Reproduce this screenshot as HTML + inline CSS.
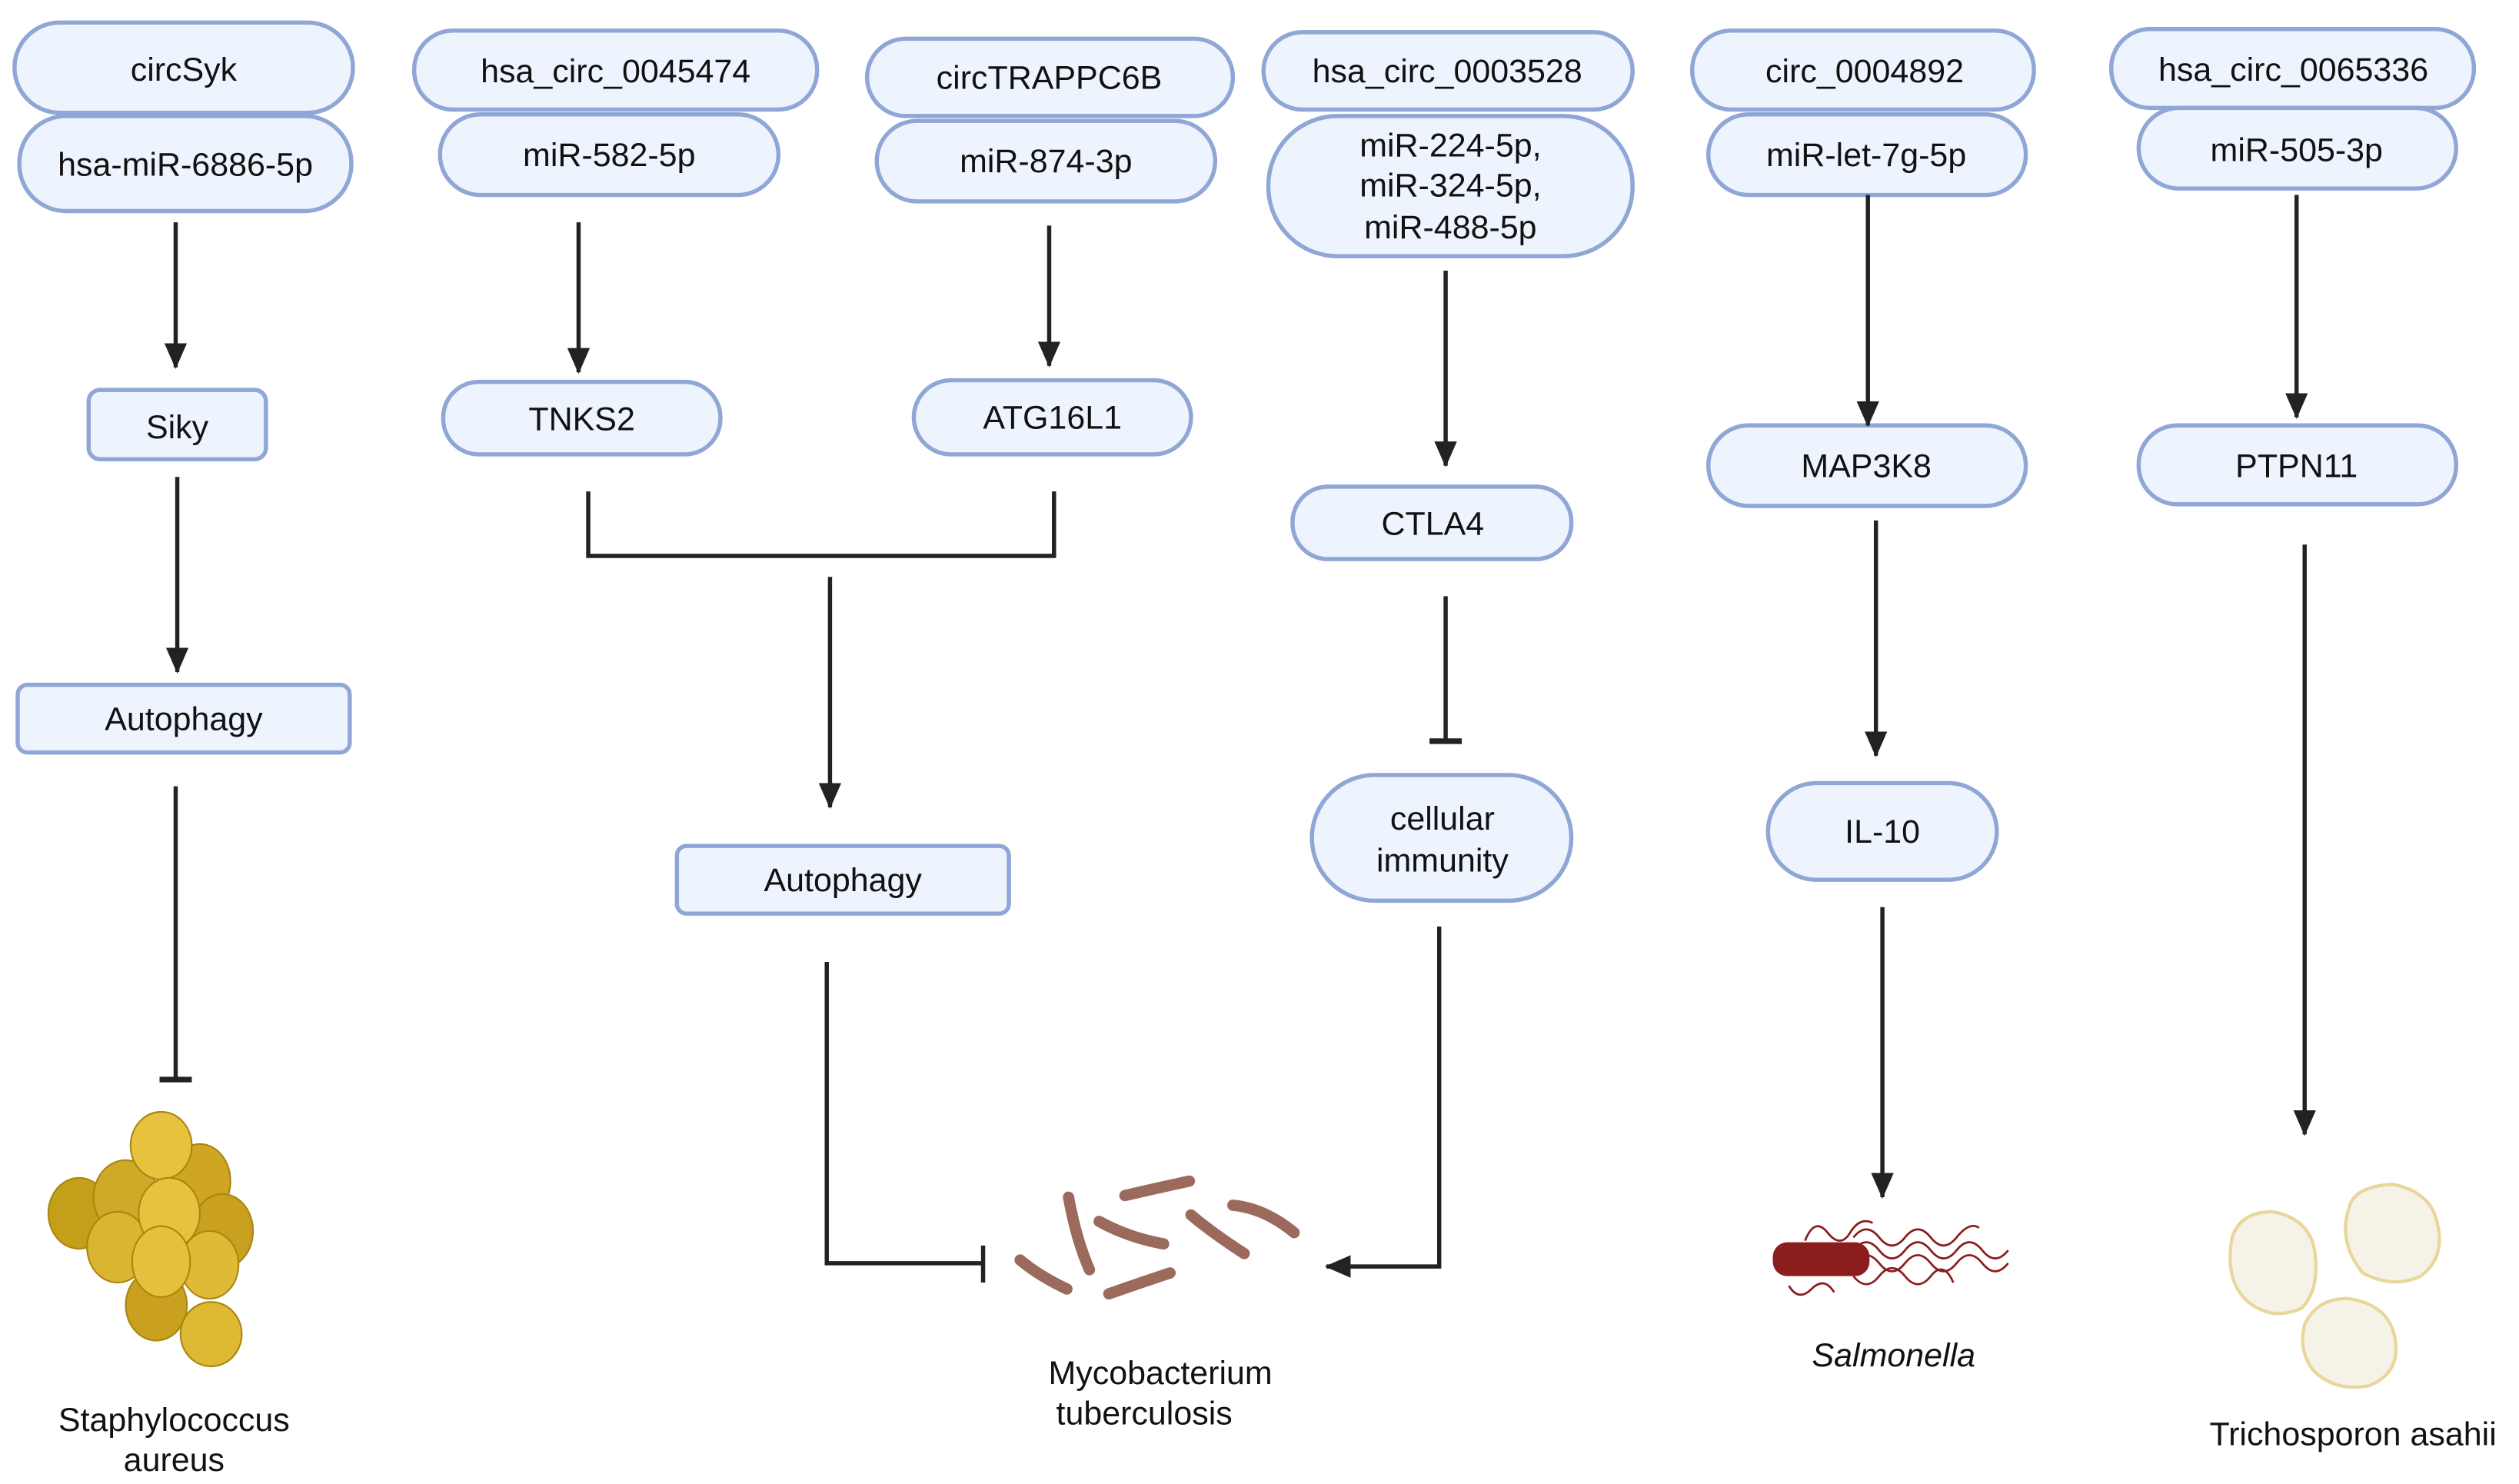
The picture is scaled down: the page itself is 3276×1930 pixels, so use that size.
<!DOCTYPE html>
<html><head><meta charset="utf-8"><style>
html,body{margin:0;padding:0;background:#fff;}
svg{display:block;}
text{font-family:"Liberation Sans",sans-serif;fill:#111;}
</style></head><body>
<svg width="3276" height="1930" viewBox="0 0 1563 921" preserveAspectRatio="none" xmlns="http://www.w3.org/2000/svg">
<defs>
<marker id="ah" markerWidth="16" markerHeight="14" refX="15" refY="7" orient="auto" markerUnits="userSpaceOnUse" viewBox="0 0 16 14"><path d="M0,0 L16,7 L0,14 Z" fill="#222"/></marker>
</defs>
<g fill="#eef4fd" stroke="#8fa6d6" stroke-width="2.6">
<rect x="9" y="14" width="210" height="56" rx="28"/>
<rect x="12" y="72" width="206" height="59" rx="29"/>
<rect x="55" y="242" width="110" height="43" rx="7"/>
<rect x="11" y="425" width="206" height="42" rx="6"/>
<rect x="257" y="19" width="250" height="49" rx="24"/>
<rect x="273" y="71" width="210" height="50" rx="25"/>
<rect x="275" y="237" width="172" height="45" rx="22"/>
<rect x="538" y="24" width="227" height="48" rx="24"/>
<rect x="544" y="75" width="210" height="50" rx="25"/>
<rect x="567" y="236" width="172" height="46" rx="23"/>
<rect x="420" y="525" width="206" height="42" rx="6"/>
<rect x="784" y="20" width="229" height="48" rx="24"/>
<rect x="787" y="72" width="226" height="87" rx="43"/>
<rect x="802" y="302" width="173" height="45" rx="22"/>
<rect x="814" y="481" width="161" height="78" rx="39"/>
<rect x="1050" y="19" width="212" height="49" rx="24"/>
<rect x="1060" y="71" width="197" height="50" rx="25"/>
<rect x="1060" y="264" width="197" height="50" rx="25"/>
<rect x="1097" y="486" width="142" height="60" rx="30"/>
<rect x="1310" y="18" width="225" height="49" rx="24"/>
<rect x="1327" y="67" width="197" height="50" rx="25"/>
<rect x="1327" y="264" width="197" height="49" rx="24"/>
</g>
<g font-size="20.5" text-anchor="middle">
<text x="114" y="50">circSyk</text>
<text x="115" y="109">hsa-miR-6886-5p</text>
<text x="110" y="272">Siky</text>
<text x="114" y="453">Autophagy</text>
<text x="382" y="51">hsa_circ_0045474</text>
<text x="378" y="103">miR-582-5p</text>
<text x="361" y="267">TNKS2</text>
<text x="651" y="55">circTRAPPC6B</text>
<text x="649" y="107">miR-874-3p</text>
<text x="653" y="266">ATG16L1</text>
<text x="523" y="553">Autophagy</text>
<text x="898" y="51">hsa_circ_0003528</text>
<text x="900" y="97">miR-224-5p,</text>
<text x="900" y="122">miR-324-5p,</text>
<text x="900" y="148">miR-488-5p</text>
<text x="889" y="332">CTLA4</text>
<text x="895" y="515">cellular</text>
<text x="895" y="541">immunity</text>
<text x="1157" y="51">circ_0004892</text>
<text x="1158" y="103">miR-let-7g-5p</text>
<text x="1158" y="296">MAP3K8</text>
<text x="1168" y="523">IL-10</text>
<text x="1423" y="50">hsa_circ_0065336</text>
<text x="1425" y="100">miR-505-3p</text>
<text x="1425" y="296">PTPN11</text>
<text x="108" y="888">Staphylococcus</text>
<text x="108" y="913">aureus</text>
<text x="720" y="859">Mycobacterium</text>
<text x="710" y="884">tuberculosis</text>
<text x="1175" y="848" font-style="italic">Salmonella</text>
<text x="1460" y="897">Trichosporon asahii</text>
</g>
<g stroke="#222" stroke-width="2.6" fill="none">
<line x1="109" y1="138" x2="109" y2="228" marker-end="url(#ah)"/>
<line x1="110" y1="296" x2="110" y2="417" marker-end="url(#ah)"/>
<line x1="109" y1="488" x2="109" y2="670"/>
<line x1="99" y1="670" x2="119" y2="670" stroke-width="3.5"/>
<line x1="359" y1="138" x2="359" y2="231" marker-end="url(#ah)"/>
<line x1="651" y1="140" x2="651" y2="227" marker-end="url(#ah)"/>
<polyline points="365,305 365,345 654,345 654,305"/>
<line x1="515" y1="358" x2="515" y2="501" marker-end="url(#ah)"/>
<polyline points="513,597 513,784 610,784"/>
<line x1="610" y1="773" x2="610" y2="796"/>
<line x1="897" y1="168" x2="897" y2="289" marker-end="url(#ah)"/>
<line x1="897" y1="370" x2="897" y2="460"/>
<line x1="887" y1="460" x2="907" y2="460" stroke-width="3.5"/>
<polyline points="893,575 893,786 823,786" marker-end="url(#ah)"/>
<line x1="1159" y1="121" x2="1159" y2="264" marker-end="url(#ah)"/>
<line x1="1164" y1="323" x2="1164" y2="469" marker-end="url(#ah)"/>
<line x1="1168" y1="563" x2="1168" y2="743" marker-end="url(#ah)"/>
<line x1="1425" y1="121" x2="1425" y2="259" marker-end="url(#ah)"/>
<line x1="1430" y1="338" x2="1430" y2="704" marker-end="url(#ah)"/>
</g>
<g stroke="#a8860f" stroke-width="1">
<ellipse cx="49" cy="753" rx="19" ry="22" fill="#c49f1a"/>
<ellipse cx="124" cy="733" rx="19" ry="23" fill="#cfa623"/>
<ellipse cx="138" cy="764" rx="19" ry="23" fill="#c9a020"/>
<ellipse cx="78" cy="743" rx="20" ry="23" fill="#d1a929"/>
<ellipse cx="100" cy="711" rx="19" ry="21" fill="#e6c23e"/>
<ellipse cx="73" cy="774" rx="19" ry="22" fill="#d9b531"/>
<ellipse cx="105" cy="753" rx="19" ry="22" fill="#e6c23e"/>
<ellipse cx="130" cy="785" rx="18" ry="21" fill="#dfba36"/>
<ellipse cx="97" cy="810" rx="19" ry="22" fill="#c9a020"/>
<ellipse cx="100" cy="783" rx="18" ry="22" fill="#e5c03c"/>
<ellipse cx="131" cy="828" rx="19" ry="20" fill="#dfb834"/>
</g>
<g stroke="#9b6a5c" stroke-width="7" stroke-linecap="round" fill="none">
<path d="M663,743 Q668,770 676,788"/>
<path d="M698,742 Q715,738 738,733"/>
<path d="M682,758 Q700,768 722,772"/>
<path d="M739,754 Q752,765 772,778"/>
<path d="M765,748 Q785,750 803,765"/>
<path d="M633,782 Q645,792 662,800"/>
<path d="M688,803 Q705,797 726,790"/>
</g>
<g stroke="#8a1c1c" stroke-width="1.3" fill="none">
<path d="M1150,776 q8,-10 16,0 t16,0 t16,0 t16,0 t16,0 t16,0"/>
<path d="M1150,784 q8,-10 16,0 t16,0 t16,0 t16,0 t16,0 t16,0"/>
<path d="M1150,768 q8,-10 16,0 t16,0 t16,0 t16,0 t14,-6"/>
<path d="M1150,792 q8,10 16,0 t16,0 t16,0 t14,4"/>
<path d="M1120,770 q6,-15 14,-5 t14,0 t14,-6"/>
<path d="M1110,798 q6,10 14,2 t14,2"/>
</g>
<rect x="1100" y="771" width="60" height="21" rx="9" fill="#8b1d1d"/>
<g fill="#f5f2e8" stroke="#e8d69a" stroke-width="2">
<path d="M1385,768 Q1390,752 1410,752 Q1432,756 1436,775 Q1440,800 1428,812 Q1410,820 1395,808 Q1380,795 1385,768Z"/>
<path d="M1458,748 Q1462,736 1485,735 Q1508,740 1512,758 Q1518,780 1502,792 Q1485,800 1466,790 Q1450,770 1458,748Z"/>
<path d="M1430,822 Q1438,805 1458,806 Q1482,810 1486,830 Q1490,852 1470,860 Q1448,864 1435,850 Q1426,838 1430,822Z"/>
</g>
</svg>
</body></html>
